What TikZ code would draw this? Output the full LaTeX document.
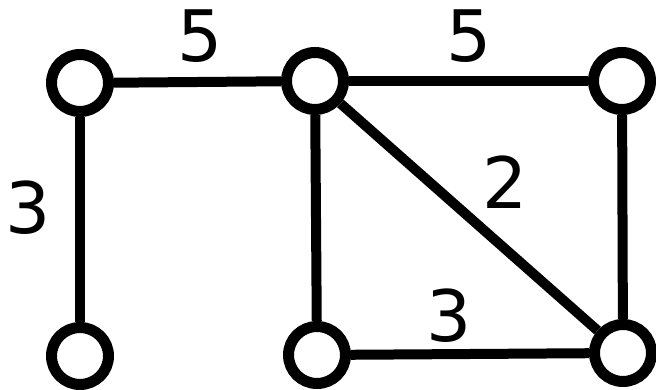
\documentclass[tikz,border=0pt]{standalone}
\usepackage{fontspec}
\setmainfont{DejaVu Sans}
\begin{document}
\begin{tikzpicture}[x=1pt,y=-1pt,
  vert/.style={circle,draw=black,line width=11pt,fill=white,minimum size=57pt,inner sep=0pt},
  edge/.style={line width=10pt},
  wlabel/.style={font=\fontsize{71}{71}\selectfont,inner sep=0pt}]
\useasboundingbox (0,0) rectangle (656,390);
\node[vert] (A) at (80,83) {};
\node[vert] (B) at (315,81) {};
\node[vert] (C) at (622,81) {};
\node[vert] (D) at (80,356) {};
\node[vert] (E) at (317,355) {};
\node[vert] (F) at (623,353) {};
\draw[edge] (A) -- (B);
\draw[edge] (B) -- (C);
\draw[edge] (A) -- (D);
\draw[edge] (B) -- (E);
\draw[edge] (B) -- (F);
\draw[edge] (C) -- (F);
\draw[edge] (E) -- (F);
\node[wlabel] (l1) at (200,36) {5};
\node[wlabel] (l2) at (469,36) {5};
\node[wlabel] (l3) at (28,208) {3};
\node[wlabel] (l4) at (505,182) {2};
\node[wlabel] (l5) at (449,316) {3};
\end{tikzpicture}
\end{document}
